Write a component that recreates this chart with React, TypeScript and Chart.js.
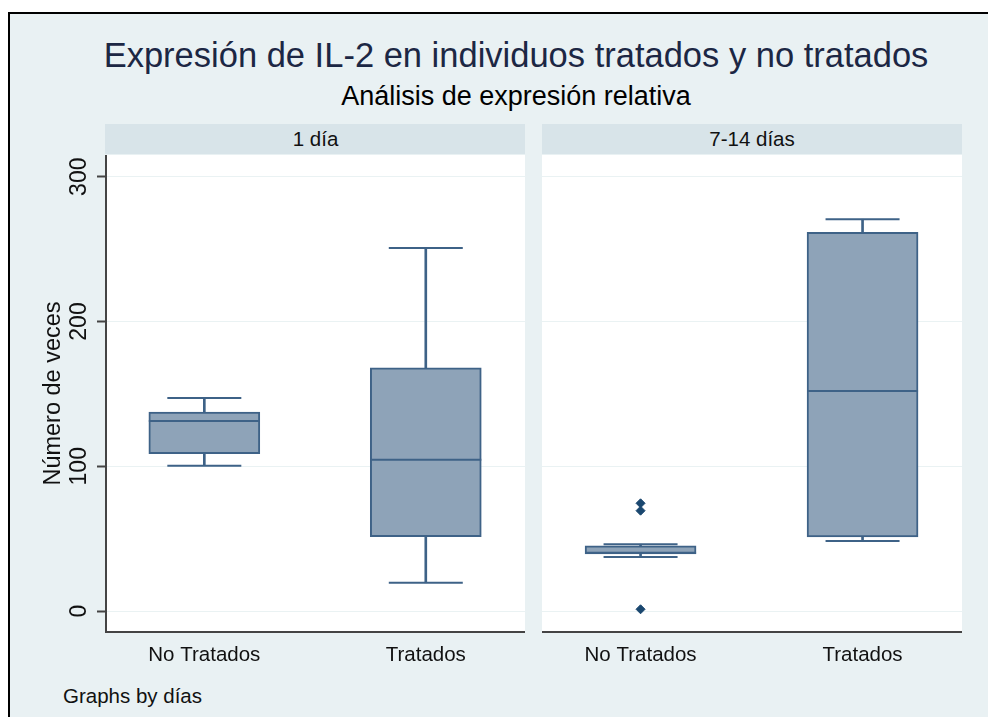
import React, { useEffect, useRef } from "react";
import { Chart, registerables } from "chart.js";

Chart.register(...registerables);

const FONT = "'Liberation Sans', Arial, Helvetica, sans-serif";

// ---- data ----
const panelLabels = ["1 día", "7-14 días"];
const categories = ["No Tratados", "Tratados"];
const categoryPositions = [1, 2];
// per panel: [No Tratados, Tratados]
const q1Values = [[108.7, 51.3], [39.4, 51.1]];
const medianValues = [[131.2, 104.5], [40.3, 152.0]];
const q3Values = [[137.5, 168.0], [45.1, 261.6]];
const lowerWhiskers = [[100.4, 19.5], [37.3, 48.4]];
const upperWhiskers = [[147.1, 250.7], [46.1, 270.6]];
const outlierCategory = [[], [1, 1, 1]];
const outlierValues = [[], [74.4, 69.3, 1.2]];
const yTicks = [0, 100, 200, 300];
const yMin = -14.5;
const yMax = 315;
const xMin = 0.556;
const xMax = 2.448;

const BOX_FILL = "#8ea3b8";
const BOX_LINE = "#3e6287";
const OUTLIER = "#1a476f";
const AXIS = "#444444";
const GRID = "#eaf2f3";
const TEXT = "#111111";

const plotBackground = {
  id: "plotBackground",
  beforeDraw(chart: any) {
    const { ctx, chartArea } = chart;
    ctx.save();
    ctx.fillStyle = "#ffffff";
    ctx.fillRect(chartArea.left, chartArea.top, chartArea.right - chartArea.left, chartArea.bottom - chartArea.top);
    ctx.restore();
  },
};

function makeConfig(p: number, showY: boolean): any {
  const boxData = categoryPositions.map((x, i) => ({ x, y: [q1Values[p][i], q3Values[p][i]] }));
  const upperStem = categoryPositions.map((x, i) => ({ x, y: [q3Values[p][i], upperWhiskers[p][i]] }));
  const lowerStem = categoryPositions.map((x, i) => ({ x, y: [lowerWhiskers[p][i], q1Values[p][i]] }));
  const medians = categoryPositions.map((x, i) => ({ x, y: medianValues[p][i] }));
  const caps = [
    ...categoryPositions.map((x, i) => ({ x, y: upperWhiskers[p][i] })),
    ...categoryPositions.map((x, i) => ({ x, y: lowerWhiskers[p][i] })),
  ];
  const outliers = outlierValues[p].map((v, i) => ({ x: outlierCategory[p][i], y: v }));

  const yScale: any = {
    type: "linear",
    min: yMin,
    max: yMax,
    afterBuildTicks: (s: any) => {
      s.ticks = yTicks.map((v) => ({ value: v }));
    },
    afterFit: (s: any) => {
      s.width = showY ? 76 : 0;
      s.paddingTop = 0;
      s.paddingBottom = 0;
    },
    grid: {
      color: GRID,
      lineWidth: 1,
      drawTicks: showY,
      tickLength: 9,
      tickColor: AXIS,
      tickWidth: 2,
    },
    border: { display: showY, color: AXIS, width: 2 },
    ticks: {
      display: showY,
      minRotation: 90,
      maxRotation: 90,
      crossAlign: "center",
      padding: -2,
      color: TEXT,
      font: { family: FONT, size: 23 },
      callback: (v: any) => String(v),
    },
    title: {
      display: showY,
      text: "Número de veces",
      color: TEXT,
      font: { family: FONT, size: 23.5 },
      padding: { top: 9, bottom: 0 },
    },
  };

  return {
    type: "bar",
    data: {
      datasets: [
        {
          type: "bar",
          data: boxData,
          backgroundColor: BOX_FILL,
          borderColor: BOX_LINE,
          borderWidth: 2,
          borderSkipped: false,
          barThickness: 111,
          grouped: false,
          order: 3,
        },
        {
          type: "bar",
          data: upperStem,
          backgroundColor: BOX_LINE,
          borderWidth: 0,
          barThickness: 2,
          grouped: false,
          order: 3,
        },
        {
          type: "bar",
          data: lowerStem,
          backgroundColor: BOX_LINE,
          borderWidth: 0,
          barThickness: 2,
          grouped: false,
          order: 3,
        },
        {
          type: "scatter",
          data: medians,
          pointStyle: "line",
          pointRadius: 55.5,
          borderColor: BOX_LINE,
          pointBorderWidth: 2,
          order: 1,
        },
        {
          type: "scatter",
          data: caps,
          pointStyle: "line",
          pointRadius: 37,
          borderColor: BOX_LINE,
          pointBorderWidth: 2,
          order: 1,
        },
        {
          type: "scatter",
          data: outliers,
          pointStyle: "rectRot",
          pointRadius: 4.5,
          backgroundColor: OUTLIER,
          borderColor: OUTLIER,
          pointBorderWidth: 1,
          order: 0,
        },
      ],
    },
    options: {
      responsive: false,
      animation: false,
      events: [],
      layout: { padding: 0, autoPadding: false },
      plugins: { legend: { display: false }, tooltip: { enabled: false }, title: { display: false } },
      scales: {
        x: {
          type: "linear",
          min: xMin,
          max: xMax,
          offset: false,
          afterBuildTicks: (s: any) => {
            s.ticks = categoryPositions.map((v) => ({ value: v }));
          },
          afterFit: (s: any) => {
            s.height = 40;
            s.paddingLeft = 0;
            s.paddingRight = 0;
          },
          grid: { display: false, drawTicks: false, offset: false },
          border: { display: true, color: AXIS, width: 2 },
          ticks: {
            autoSkip: false,
            maxRotation: 0,
            minRotation: 0,
            padding: 11,
            color: TEXT,
            font: { family: FONT, size: 20.5 },
            callback: (v: any) => {
              const idx = categoryPositions.indexOf(v);
              return idx >= 0 ? categories[idx] : "";
            },
          },
        },
        y: yScale,
      },
    },
    plugins: [plotBackground],
  };
}

function Panel(props: { p: number; showY: boolean; left: number; width: number }) {
  const ref = useRef<HTMLCanvasElement>(null);
  useEffect(() => {
    const chart = new Chart(ref.current as HTMLCanvasElement, makeConfig(props.p, props.showY));
    return () => chart.destroy();
  }, [props.p, props.showY]);
  return (
    <canvas
      ref={ref}
      width={props.width}
      height={517}
      style={{ position: "absolute", left: props.left, top: 155, width: props.width, height: 517 }}
    />
  );
}

function Text(props: { x: number; capY: number; size: number; color?: string; center?: boolean; children: any }) {
  const { x, capY, size, color, center } = props;
  return (
    <div
      style={{
        position: "absolute",
        left: x,
        top: capY - 0.4885 * size,
        fontSize: size,
        lineHeight: `${size}px`,
        color: color || TEXT,
        whiteSpace: "nowrap",
        transform: center ? "translateX(-50%)" : undefined,
        fontFamily: FONT,
      }}
    >
      {props.children}
    </div>
  );
}

export default function App() {
  return (
    <div
      style={{
        position: "fixed",
        left: 0,
        top: 0,
        width: 988,
        height: 717,
        overflow: "hidden",
        background: "#ffffff",
        fontFamily: FONT,
      }}
    >
      <div
        style={{
          position: "absolute",
          left: 8,
          top: 12,
          width: 1000,
          height: 730,
          border: "2px solid #000",
          boxSizing: "border-box",
          background: "#e9f1f3",
        }}
      />
      <Text x={516} capY={54.7} size={34.5} color="#1c2744" center>
        Expresión de IL-2 en individuos tratados y no tratados
      </Text>
      <Text x={516} capY={96.5} size={27} color="#000" center>
        Análisis de expresión relativa
      </Text>

      <div style={{ position: "absolute", left: 105, top: 124, width: 420, height: 30, background: "#d8e4e9" }} />
      <div style={{ position: "absolute", left: 542, top: 124, width: 420, height: 30, background: "#d8e4e9" }} />
      <Text x={315.5} capY={139} size={20.5} center>
        {panelLabels[0]}
      </Text>
      <Text x={752} capY={139} size={20.5} center>
        {panelLabels[1]}
      </Text>

      <Panel p={0} showY={true} left={30} width={495} />
      <Panel p={1} showY={false} left={542} width={420} />

      <Text x={63} capY={696} size={20.5}>
        Graphs by días
      </Text>
    </div>
  );
}
